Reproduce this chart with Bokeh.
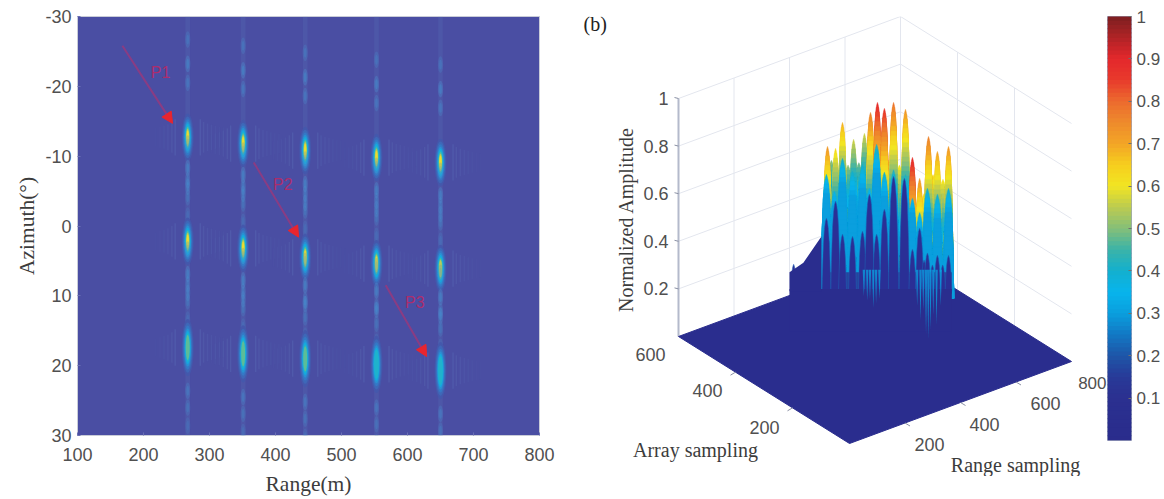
from bokeh.plotting import figure
from bokeh.layouts import row
from bokeh.models import Range1d, Label, Arrow, NormalHead, FixedTicker
from bokeh.core.properties import value
from bokeh.embed import file_html
from bokeh.resources import INLINE
import numpy as np

# ---------- panel (a) values ----------
target_range = [267, 351, 445, 553, 650]
row1_az = [-12.7, -11.8, -10.8, -9.8, -9.1]
row2_az = [2.2, 3.2, 4.5, 5.4, 6.1]
row3_az = [17.4, 18.3, 19.0, 19.8, 20.7]
row1_amp = [0.65, 0.63, 0.62, 0.62, 0.60]
row2_amp = [0.64, 0.64, 0.62, 0.62, 0.55]
row3_amp = [0.50, 0.47, 0.50, 0.45, 0.45]
lobe_offset = [-14.0, -10.5, -7.8, 6.2, 8.6, 11.2]
lobe_strength = [0.55, 0.75, 0.6, 0.6, 0.5, 0.4]
ripple_offset = [-48, -42, -36, -30, -24, -19, 19, 24, 30, 36, 42, 48, 54, 60]
ripple_strength = [0.04, 0.06, 0.08, 0.11, 0.15, 0.2, 0.2, 0.15, 0.12, 0.1, 0.08, 0.06, 0.05, 0.03]
arrow_range0 = [168, 367, 567]
arrow_az0 = [-25.8, -9.1, 8.5]
arrow_range1 = [244, 435, 629]
arrow_az1 = [-14.7, 1.6, 18.7]
arrow_names = ["P1", "P2", "P3"]
arrow_label_range = [226, 411, 611]
arrow_label_az = [-22, -6, 11]
x_ticks_a = [100, 200, 300, 400, 500, 600, 700, 800]
y_ticks_a = [-30, -20, -10, 0, 10, 20, 30]

# ---------- panel (b) values ----------
# position read along the back-left floor edge, top read on the amplitude axis, colour read on the colour bar
back_range = [537, 566, 591, 631, 670, 692, 717, 742, 775, 818, 843, 869, 901, 933, 973]
back_top = [.798, .790, .899, .828, .853, .941, .983, .958, .983, .954, .752, .664, .840, .777, .798]
back_level = [.72, .62, .68, .56, .56, .76, .88, .86, .78, .72, .88, .72, .76, .70, .72]
valley_range = [551, 578, 611, 650, 681, 704, 729, 758, 796, 830, 856, 885, 917, 953]
valley_top = [.74, .70, .72, .73, .72, .74, .72, .74, .72, .62, .56, .60, .68, .66]
valley_level = [.50, .50, .50, .48, .50, .58, .60, .60, .60, .62, .60, .62, .62, .60]
mid_range = [533, 562, 591, 627, 663, 688, 714, 742, 775, 818, 843, 869, 897, 933, 973]
mid_top = [.681, .609, .748, .693, .723, .622, .807, .69, .70, .68, .58, .52, .622, .597, .622]
mid_level = [.38, .36, .40, .40, .40, .36, .42, .40, .42, .42, .36, .38, .40, .40, .40]
front_range = [415, 433, 447, 469, 487, 533, 566, 591, 627, 663, 688, 714, 742, 775, 814, 843, 869, 885, 897, 915, 933, 952, 973]
front_top = [.303, .286, .294, .307, .366, .496, .567, .429, .420, .441, .597, .429, .534, .672, .664, .366, .454, .32, .35, .30, .34, .30, .34]
streak_range = [668, 680, 690, 702, 712, 724, 860, 872, 882, 892, 900, 908, 918, 930, 945]
streak_drop = [.11, .13, .12, .16, .14, .12, .15, .21, .17, .27, .29, .25, .19, .23, .15]
z_ticks = [0.2, 0.4, 0.6, 0.8, 1]
range_ticks = [200, 400, 600, 800]
array_ticks = [200, 400, 600]

# ---------- colour bar ----------
cbar_levels = [0, .05, .1, .15, .2, .25, .3, .35, .4, .45, .5, .55, .6, .65, .7, .75, .8, .85, .9, .95, 1]
cbar_colors = ["#2A2C8C", "#2A2E8E", "#2B3090", "#283A98", "#1E56A8", "#1278C4", "#0A9FDE", "#08B4EC", "#13B0CE",
               "#3BB3A8", "#85BF78", "#BCCB50", "#F2E522", "#F6CE1E", "#F3A526", "#EE8A2C", "#EC6A2E", "#E83A2C",
               "#E4282C", "#B02326", "#7C1F20"]
cbar_ticks = [0.1, 0.2, 0.3, 0.4, 0.5, 0.6, 0.7, 0.8, 0.9, 1]


def cmap(z):
    rgb = np.array([[int(c[i:i + 2], 16) for i in (1, 3, 5)] for c in cbar_colors], float)
    vals = [np.interp(z, cbar_levels, rgb[:, k]) for k in range(3)]
    return "#%02x%02x%02x" % tuple(int(round(v)) for v in vals)


SANS = "Liberation Sans"
SERIF = "Liberation Serif"
TICK = "#505050"
LBL = "#3c3c3c"
H = 491

# ---------- panel (a) ----------
a = figure(width=580, height=H, x_range=Range1d(100, 800), y_range=Range1d(30, -30),
           output_backend="svg", toolbar_location=None,
           min_border_left=77, min_border_right=41, min_border_top=16, min_border_bottom=56)
a.frame_width = 462
a.frame_height = 419
a.grid.visible = False
a.background_fill_color = "#4A4EA3"
a.outline_line_color = "#C9CCD8"
a.border_fill_color = "white"
for ax in (a.xaxis[0], a.yaxis[0]):
    ax.axis_line_color = None
    ax.major_tick_line_color = "#6a70b4"
    ax.major_tick_in = 3
    ax.major_tick_out = 0
    ax.minor_tick_line_color = None
    ax.major_label_text_font = SANS
    ax.major_label_text_font_size = "18px"
    ax.major_label_text_color = TICK
    ax.axis_label_text_font = SERIF
    ax.axis_label_text_font_size = "21.5px"
    ax.axis_label_text_font_style = "normal"
    ax.axis_label_text_color = LBL
a.xaxis[0].ticker = FixedTicker(ticks=x_ticks_a)
a.yaxis[0].ticker = FixedTicker(ticks=y_ticks_a)
a.yaxis[0].major_label_overrides = {t: str(t) for t in y_ticks_a}
a.xaxis[0].axis_label = "Range(m)"
a.yaxis[0].axis_label = "Azimuth(°)"
a.xaxis[0].major_label_standoff = 12
a.xaxis[0].axis_label_standoff = 8
a.yaxis[0].major_label_standoff = 6
a.yaxis[0].axis_label_standoff = 3

# faint vertical range stripes
a.rect(x=target_range, y=[0] * 5, width=7, height=60, fill_color="#5C86C8", fill_alpha=0.16, line_color=None)

a_level = [0.08, 0.13, 0.18, 0.25, 0.32, 0.40, 0.47, 0.54, 0.60, 0.66]
a_color = ["#4458AC", "#3E68B8", "#3479C6", "#2991D2", "#14A9E0", "#1FB3CC", "#5CBD98", "#B9CC58", "#EBDD2E", "#F6D21E"]
size_frac = [1.0, 0.84, 0.7, 0.58, 0.48, 0.40, 0.33, 0.26, 0.19, 0.12]

all_az = [row1_az, row2_az, row3_az]
all_amp = [row1_amp, row2_amp, row3_amp]
tall = [6.8, 6.8, 8.2]
for azs, amps, t in zip(all_az, all_amp, tall):
    # fine ripple on both sides of each target
    xs0, xs1, y0, y1, alph = [], [], [], [], []
    for r, az in zip(target_range, azs):
        for off, s in zip(ripple_offset, ripple_strength):
            h = 1.0 + 8 * s
            xs0.append(r + off)
            xs1.append(r + off)
            y0.append(az - h)
            y1.append(az + h)
            alph.append(s)
    a.segment(xs0, y0, xs1, y1, line_color="#6B8CCB", line_alpha=alph, line_width=1.4)
    # side lobes along azimuth
    for off, s in zip(lobe_offset, lobe_strength):
        a.ellipse(x=target_range, y=[z + off for z in azs], width=8, height=2.4,
                  fill_color="#4C8ACC", fill_alpha=s * 0.5, line_color=None)
        a.ellipse(x=target_range, y=[z + off for z in azs], width=4, height=1.4,
                  fill_color="#3D9ED8", fill_alpha=s * 0.4, line_color=None)
    # main lobes, outermost level first
    for lev, col, frac in zip(a_level, a_color, size_frac):
        rr, zz = [], []
        for r, az, amp in zip(target_range, azs, amps):
            if lev <= amp:
                rr.append(r)
                zz.append(az)
        ww = [18 * frac] * len(rr)
        hh = [t * frac ** 0.75] * len(rr)
        a.ellipse(x=rr, y=zz, width=ww, height=hh, fill_color=col, line_color=None)

# arrows and names
for x0, y0, x1, y1 in zip(arrow_range0, arrow_az0, arrow_range1, arrow_az1):
    a.add_layout(Arrow(end=NormalHead(size=11, fill_color="#E8252E", line_color="#E8252E"),
                       x_start=x0, y_start=y0, x_end=x1, y_end=y1,
                       line_color="#B5306E", line_alpha=0.6, line_width=2))
a.text(x=arrow_label_range, y=arrow_label_az, text=arrow_names, text_color="#C8255E",
       text_font=value(SANS), text_font_size="16px", text_align="center", text_baseline="middle", text_alpha=0.8)
a.add_layout(Label(x=-6, y=-29, text="(a)", text_font=SERIF, text_font_size="20px",
                   text_color="#222222", text_baseline="middle", text_align="left"))

# ---------- panel (b) ----------
LEFT_X, LEFT_Y = 678, 335
FRONT_X, FRONT_Y = 849, 442
RIGHT_X, RIGHT_Y = 1071, 360
Z_PX = 238
R_MAX, A_MAX = 800, 600


def proj(r, arr, z=0.0):
    x = FRONT_X + (RIGHT_X - FRONT_X) * r / R_MAX + (LEFT_X - FRONT_X) * arr / A_MAX
    y = FRONT_Y + (RIGHT_Y - FRONT_Y) * r / R_MAX + (LEFT_Y - FRONT_Y) * arr / A_MAX - Z_PX * z
    return x, y


def back_x(r):
    return proj(r, A_MAX)[0]


def axis_y(top):
    return LEFT_Y - Z_PX * top


b = figure(width=527, height=H, x_range=Range1d(580, 1107), y_range=Range1d(H, 15),
           output_backend="svg", toolbar_location=None, min_border=0)
b.frame_width = 527
b.frame_height = H - 15
b.axis.visible = False
b.grid.visible = False
b.outline_line_color = None

GRID = "#E3E6EE"
# wall grid
for z in z_ticks:
    x0, y0 = proj(0, A_MAX, z)
    x1, y1 = proj(R_MAX, A_MAX, z)
    x2, y2 = proj(R_MAX, 0, z)
    b.line([x0, x1, x2], [y0, y1, y2], line_color=GRID, line_width=1)
for r in range_ticks:
    x0, y0 = proj(r, A_MAX, 0)
    x1, y1 = proj(r, A_MAX, 1)
    b.line([x0, x1], [y0, y1], line_color=GRID, line_width=1)
for ar in [200, 400]:
    x0, y0 = proj(R_MAX, ar, 0)
    x1, y1 = proj(R_MAX, ar, 1)
    b.line([x0, x1], [y0, y1], line_color=GRID, line_width=1)

# amplitude axis
x0, y0 = proj(0, A_MAX, 0)
x1, y1 = proj(0, A_MAX, 1)
b.line([x0, x1], [y0, y1], line_color="#B4BACB", line_width=2)
for z in z_ticks:
    xt, yt = proj(0, A_MAX, z)
    b.line([xt - 4, xt], [yt - 1, yt], line_color="#8A90A4", line_width=1)
b.text(x=[x0 - 10] * len(z_ticks), y=[proj(0, A_MAX, z)[1] for z in z_ticks], text=[str(z) for z in z_ticks],
       text_font=value(SANS), text_font_size="18px", text_color=TICK, text_align="right", text_baseline="middle")

# floor
corners = [proj(0, 0), proj(R_MAX, 0), proj(R_MAX, A_MAX), proj(0, A_MAX)]
b.patch([c[0] for c in corners], [c[1] for c in corners], fill_color="#2A2D8E", line_color="#2A2D8E")

# floor tick marks
for r in range_ticks[:-1]:
    xt, yt = proj(r, 0)
    b.line([xt, xt + 5], [yt, yt + 3], line_color="#8A90A4", line_width=1)
for ar in array_ticks[:-1]:
    xt, yt = proj(0, ar)
    b.line([xt, xt - 5], [yt, yt + 3], line_color="#8A90A4", line_width=1)

# wall behind the spikes
wall_left, wall_right = back_x(522), back_x(985)
b.quad(left=[wall_left], right=[wall_right], top=[axis_y(0.55)], bottom=[axis_y(0.18)],
       fill_color=cmap(0.33), line_color=None)

# spike outline: drop below the tip (px) against half width (px)
prof_drop = [0, 3, 10, 25, 60, 120, 250]
prof_half = [0.1, 0.9, 1.7, 2.6, 3.6, 4.6, 6]


def bell(xc, ytip, ytop, ybot, scale=1.0):
    ys = np.array([ytop] + [ytip + d for d in prof_drop if ytop < ytip + d < ybot] + [ybot], float)
    hw = np.interp(ys - ytip, prof_drop, prof_half) * scale
    return list(xc - hw) + list(xc + hw[::-1]), list(ys) + list(ys[::-1])


def spike_set(rs, tops, levels, bottom, scale=1.0):
    xs, ys, cols = [], [], []
    for r, t, lev in zip(rs, tops, levels):
        xc = back_x(r)
        yt = axis_y(t)
        step = 0.02
        n = int(lev / step)
        for j in range(n + 1):
            z = lev - j * step
            if z < 0.3:
                z = 0.3
            ytop = yt + (lev - (lev - j * step)) * Z_PX
            if ytop >= bottom:
                break
            px, py = bell(xc, yt, ytop, bottom, scale)
            xs.append(px)
            ys.append(py)
            cols.append(cmap(z))
    return xs, ys, cols


bottom_back = axis_y(0.2)
xs, ys, cols = spike_set(valley_range, valley_top, valley_level, bottom_back, 1.6)
b.patches(xs, ys, fill_color=cols, line_color=cols, line_width=0.4)
xs, ys, cols = spike_set(back_range, back_top, back_level, bottom_back)
b.patches(xs, ys, fill_color=cols, line_color=cols, line_width=0.4)
xs, ys, cols = spike_set(mid_range, mid_top, mid_level, axis_y(0.16), 1.2)
b.patches(xs, ys, fill_color=cols, line_color=cols, line_width=0.4)

# darker lower part of the block
b.quad(left=[wall_left], right=[wall_right], top=[axis_y(0.27)], bottom=[axis_y(0.18)],
       fill_color=cmap(0.17), line_color=None)

# dark front ridge
xs, ys = [], []
for r, t in zip(front_range, front_top):
    px, py = bell(back_x(r), axis_y(t), axis_y(t), axis_y(0.19), 1.15)
    xs.append(px)
    ys.append(py)
b.patches(xs, ys, fill_color="#2A2F96", line_color="#1F63B4", line_width=0.5)

# blue base of the ridge on the floor
b.quad(left=[back_x(400)], right=[wall_right], top=[axis_y(0.2)], bottom=[axis_y(0.02)],
       fill_color="#2A2D8E", line_color=None)
hill_x = [back_x(400), back_x(400), back_x(450), back_x(515), back_x(515)]
hill_y = [axis_y(0.19), axis_y(0.27), axis_y(0.31), axis_y(0.42), axis_y(0.19)]
b.patch(hill_x, hill_y, fill_color="#2A2D8E", line_color=None)

# cyan streaks that run over the floor
xs, ys, cols = [], [], []
for r, d in zip(streak_range, streak_drop):
    xc = back_x(r)
    xs.append([xc - 1.2, xc + 1.2, xc])
    ys.append([axis_y(0.28), axis_y(0.28), axis_y(0.28 - d)])
    cols.append(cmap(0.31))
b.patches(xs, ys, fill_color=cols, line_color=None, fill_alpha=0.75)


# labels of floor axes
def txt(x, y, s, font=SANS, size="18px", color=TICK, angle=0.0, align="center"):
    b.text(x=[x], y=[y], text=[s], text_font=value(font), text_font_size=size, text_color=color,
           text_align=align, text_baseline="middle", angle=angle)


for r, (lx, ly) in zip(range_ticks[:-1], [(929, 443), (984, 423), (1045, 402)]):
    txt(lx, ly, str(r))
txt(1106, 381, str(range_ticks[-1]), size="17px", align="right")
for ar, (lx, ly) in zip(array_ticks, [(764, 426), (707, 389), (650, 353)]):
    txt(lx, ly, str(ar))
txt(695, 448, "Array sampling", SERIF, "20px", LBL)
txt(1015, 463, "Range sampling", SERIF, "20px", LBL)
txt(625, 218, "Normalized Amplitude", SERIF, "20px", LBL, angle=np.pi / 2)
txt(583, 22, "(b)", SERIF, "20px", "#222222", align="left")

# ---------- colour bar ----------
c = figure(width=57, height=H, x_range=Range1d(0, 1), y_range=Range1d(0, 1),
           output_backend="svg", toolbar_location=None, y_axis_location="right",
           min_border_left=0, min_border_right=33, min_border_top=16, min_border_bottom=51)
c.frame_width = 24
c.frame_height = 424
c.xaxis.visible = False
c.grid.visible = False
c.outline_line_color = "#9FA5BC"
cy = np.linspace(0, 1, 101)
c.quad(left=[0] * 100, right=[1] * 100, bottom=list(cy[:-1]), top=list(cy[1:] + 0.003),
       fill_color=[cmap(v + 0.005) for v in cy[:-1]], line_color=None)
ya = c.yaxis[0]
ya.ticker = FixedTicker(ticks=cbar_ticks)
ya.axis_line_color = None
ya.major_tick_in = 3
ya.major_tick_out = 0
ya.major_tick_line_color = "#6f6f6f"
ya.minor_tick_line_color = None
ya.major_label_text_font = SANS
ya.major_label_text_font_size = "17px"
ya.major_label_text_color = TICK
ya.major_label_standoff = 5
ya.major_label_overrides = {1: "1"}

page = row(a, b, c, spacing=0)
open("out.html", "w").write(file_html(page, INLINE))
